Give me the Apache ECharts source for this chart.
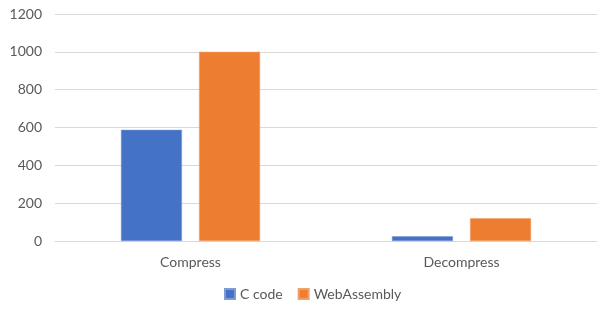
<!DOCTYPE html>
<html>
<head>
<meta charset="utf-8">
<script src="https://cdn.jsdelivr.net/npm/echarts@6/dist/echarts.min.js"></script>
<style>
  html, body { margin: 0; padding: 0; background: #fff; }
  #chart { width: 597px; height: 320px; }
</style>
</head>
<body>
<div id="chart"></div>
<script>
const categories = ['Compress', 'Decompress']
const cCode = [588, 25]
const webAssembly = [1000, 120]
const yTicks = [0, 200, 400, 600, 800, 1000, 1200]

const chart = echarts.init(document.getElementById('chart'))

const labelFont = { color: '#595959', fontFamily: 'Lato', fontSize: 14 }

chart.setOption({
  animation: false,
  grid: { left: 55, right: 0, top: 14, bottom: 79 },
  legend: {
    bottom: 14,
    left: 219,
    itemWidth: 10,
    itemHeight: 10,
    itemGap: 15,
    icon: 'rect',
    textStyle: labelFont,
    data: ['C code', 'WebAssembly']
  },
  xAxis: {
    type: 'category',
    data: categories,
    axisLine: { lineStyle: { color: '#D9D9D9' } },
    axisTick: { show: false },
    axisLabel: { ...labelFont, margin: 14 }
  },
  yAxis: {
    type: 'value',
    min: yTicks[0],
    max: yTicks[yTicks.length - 1],
    interval: 200,
    axisLine: { show: false },
    axisTick: { show: false },
    axisLabel: { ...labelFont, margin: 13, formatter: v => String(v) },
    splitLine: { lineStyle: { color: '#D9D9D9' } }
  },
  series: [
    {
      name: 'C code',
      type: 'bar',
      data: cCode,
      barWidth: 61,
      barGap: '28%',
      itemStyle: { color: '#4472C4', borderColor: '#7E9BD6', borderWidth: 0.5 }
    },
    {
      name: 'WebAssembly',
      type: 'bar',
      data: webAssembly,
      barWidth: 61,
      itemStyle: { color: '#ED7D31', borderColor: '#F2A06B', borderWidth: 0.5 }
    }
  ]
})
</script>
</body>
</html>
